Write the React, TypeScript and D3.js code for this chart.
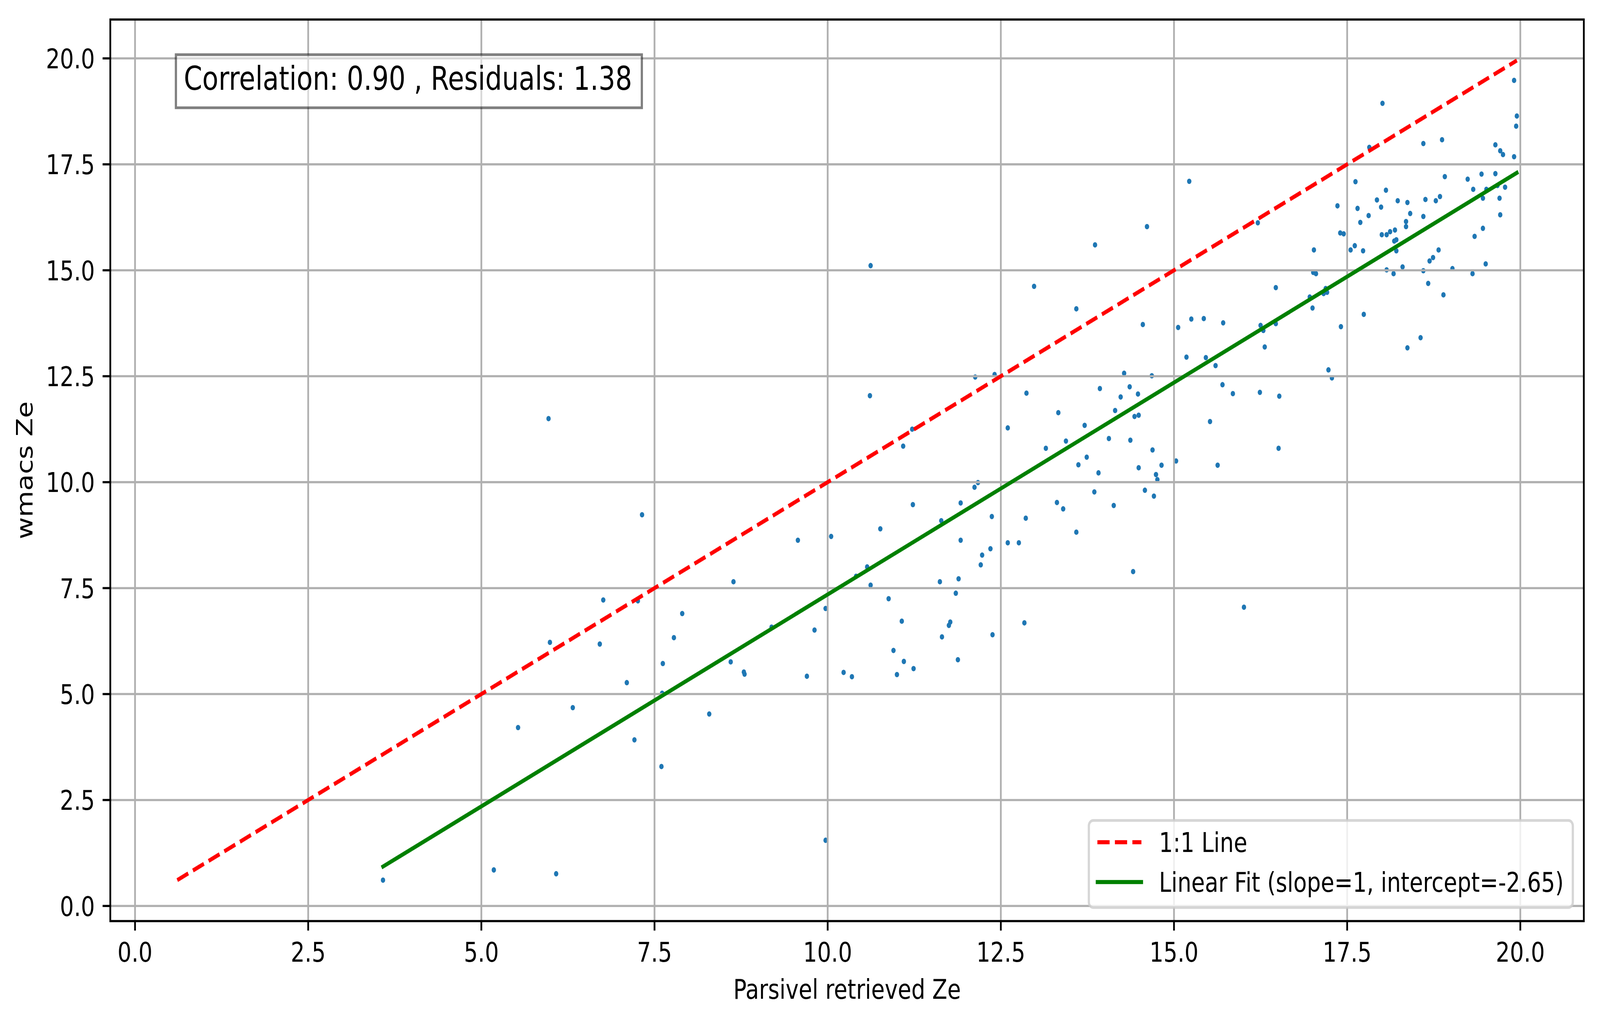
import React, { useEffect } from "react";
import * as d3 from "d3";

// Parsivel retrieved Ze (x) and wmacs Ze (y)
const parsivelZe = [
  3.58, 5.18, 6.08, 5.53, 6.32, 5.99, 6.71, 6.76, 7.1, 7.21, 7.26, 7.32, 7.6, 7.62, 7.61, 7.78, 7.9, 8.29, 8.6, 8.64, 8.79, 8.8, 9.19, 9.57, 5.97,
  10.05, 11.92, 13.59, 12.6, 12.76, 12.35, 12.23, 12.21, 10.57, 10.41, 10.62, 14.41, 11.62, 11.89, 11.85, 10.88, 9.97, 16.01, 9.81, 11.07, 11.77, 11.75, 12.84, 11.65, 12.38, 10.95, 11.1, 11.88, 11.24, 10.23, 9.7, 10.35, 11.0, 9.97,
  10.62, 12.98, 10.61, 12.13, 12.41, 12.87, 13.33, 11.22, 11.09, 12.6, 13.15, 12.17, 12.12, 11.92, 11.23, 11.64, 12.37, 12.86, 13.31, 13.4, 10.76,
  14.61, 13.86, 16.21, 15.22, 17.02, 17.01, 17.05, 16.47, 13.59, 16.96, 17.0, 14.55, 15.06, 15.25, 15.43, 15.71, 16.25, 16.29, 16.47, 16.31,
  15.18, 15.46, 15.6, 14.28, 14.68, 15.7, 15.85, 16.24, 16.52, 13.93, 14.36, 14.48, 14.23, 14.15, 14.43, 14.49, 13.71, 15.52, 13.44, 14.06,
  14.37, 14.69, 13.74, 13.62, 13.91, 14.49, 14.82, 15.03, 15.63, 16.51, 14.74, 14.76, 13.85, 14.58, 14.71, 14.13, 17.23, 17.28, 18.37, 18.56,
  18.01, 19.91, 19.95, 19.94, 17.82, 18.6, 18.87, 19.64, 19.71, 19.75, 19.91, 17.62, 18.91, 19.24, 19.44, 19.64, 17.36, 18.06, 19.32, 19.51,
  19.67, 19.78, 17.93, 17.99, 17.65, 18.23, 18.37, 18.63, 18.78, 18.84, 19.46, 19.7, 17.81, 17.69, 18.41, 18.35, 18.35, 18.6, 19.71, 17.4,
  17.45, 18.0, 18.07, 18.12, 18.19, 18.18, 18.21, 19.46, 19.34, 17.55, 17.61, 17.73, 18.21, 18.82, 18.74, 18.69, 18.07, 18.17, 18.3, 18.6,
  19.02, 19.31, 19.5, 18.67, 18.89, 17.16, 17.21, 17.19, 17.74, 17.41,
];

const wmacsZe = [
  0.61, 0.85, 0.76, 4.21, 4.68, 6.22, 6.18, 7.22, 5.27, 3.92, 7.2, 9.23, 3.29, 5.72, 5.02, 6.33, 6.9, 4.53, 5.76, 7.65, 5.52, 5.47, 6.58, 8.63, 11.5,
  8.72, 8.63, 8.82, 8.57, 8.57, 8.43, 8.28, 8.05, 8.0, 7.78, 7.57, 7.89, 7.65, 7.72, 7.38, 7.25, 7.02, 7.05, 6.51, 6.72, 6.7, 6.62, 6.68, 6.35, 6.4, 6.03, 5.77, 5.81, 5.6, 5.51, 5.42, 5.41, 5.46, 1.55,
  15.11, 14.62, 12.04, 12.48, 12.54, 12.1, 11.64, 11.25, 10.85, 11.28, 10.8, 9.99, 9.88, 9.51, 9.47, 9.09, 9.19, 9.15, 9.52, 9.37, 8.9,
  16.03, 15.6, 16.12, 17.1, 15.48, 14.95, 14.92, 14.59, 14.09, 14.37, 14.11, 13.72, 13.65, 13.85, 13.86, 13.76, 13.7, 13.58, 13.74, 13.19,
  12.95, 12.94, 12.75, 12.57, 12.51, 12.3, 12.09, 12.12, 12.03, 12.21, 12.25, 12.08, 12.01, 11.69, 11.55, 11.58, 11.34, 11.43, 10.97, 11.03,
  10.99, 10.76, 10.59, 10.41, 10.22, 10.34, 10.4, 10.5, 10.4, 10.8, 10.18, 10.06, 9.77, 9.81, 9.67, 9.45, 12.65, 12.46, 13.17, 13.41,
  18.94, 19.48, 18.64, 18.4, 17.9, 17.99, 18.08, 17.96, 17.82, 17.73, 17.68, 17.09, 17.21, 17.15, 17.27, 17.28, 16.52, 16.89, 16.91, 16.91,
  17.0, 16.96, 16.66, 16.49, 16.46, 16.64, 16.6, 16.67, 16.64, 16.74, 16.7, 16.7, 16.29, 16.13, 16.34, 16.15, 16.03, 16.27, 16.31, 15.88,
  15.86, 15.84, 15.84, 15.91, 15.95, 15.69, 15.72, 15.99, 15.8, 15.48, 15.58, 15.46, 15.46, 15.48, 15.3, 15.22, 15.01, 14.92, 15.08, 14.99,
  15.04, 14.92, 15.15, 14.69, 14.42, 14.45, 14.48, 14.57, 13.96, 13.67,
];

const tickValues = [0, 2.5, 5, 7.5, 10, 12.5, 15, 17.5, 20];
const fitSlope = 1;
const fitIntercept = -2.65;
const correlation = 0.9;
const residuals = 1.38;
const legendLabels = ["1:1 Line", `Linear Fit (slope=${fitSlope}, intercept=${fitIntercept})`];

const W = 5048;
const H = 2620;
const M = { left: 348, right: 51, top: 50, bottom: 261 };
const PT = 500 / 72; // matplotlib points -> px at 500 dpi
const FONT = "DejaVu Sans";

export default function App() {
  useEffect(() => {
    document.body.style.margin = "0";
    document.body.style.overflow = "hidden";
  }, []);

  const n = Math.min(parsivelZe.length, wmacsZe.length);
  const pts = d3.range(n).map((i) => ({ x: parsivelZe[i], y: wmacsZe[i] }));

  const xMin = d3.min(parsivelZe) as number;
  const xMax = d3.max(parsivelZe) as number;
  const lineLo = Math.min(xMin, d3.min(wmacsZe) as number);
  const lineHi = Math.max(xMax, d3.max(wmacsZe) as number);

  // matplotlib-style 5% autoscale margins
  const pad = (lo: number, hi: number): [number, number] => [lo - (hi - lo) * 0.05, hi + (hi - lo) * 0.05];
  const x = d3.scaleLinear().domain(pad(lineLo, lineHi)).range([M.left, W - M.right]);
  const y = d3.scaleLinear().domain(pad(lineLo, lineHi)).range([H - M.bottom, M.top]);

  const line = d3
    .line<[number, number]>()
    .x((d) => x(d[0]))
    .y((d) => y(d[1]));

  const oneToOne: [number, number][] = [
    [lineLo, lineLo],
    [lineHi, lineHi],
  ];
  const fit: [number, number][] = [
    [xMin, fitSlope * xMin + fitIntercept],
    [xMax, fitSlope * xMax + fitIntercept],
  ];

  const fmt = d3.format(".1f");
  const tickLen = 3.5 * PT;
  const lw = 0.8 * PT;
  const fs = 10 * PT;
  const [x0, x1] = x.range();
  const [y0, y1] = y.range();

  // legend geometry (lower right)
  const legRight = x1 - 0.5 * fs;
  const legBottom = y0 - 0.5 * fs;
  const legW = 1527;
  const legH = 223;
  const legLeft = legRight - legW;
  const legTop = legBottom - legH;
  const handleX0 = legLeft + 27;
  const handleX1 = handleX0 + 2 * fs;
  const rowY = [legTop + 55.7, legTop + 157.7];
  const dash = `${3.7 * 1.5 * PT} ${1.6 * 1.5 * PT}`;

  return (
    <svg
      viewBox={`0 0 ${W} ${H}`}
      preserveAspectRatio="none"
      style={{
        position: "absolute",
        left: 0,
        top: 0,
        display: "block",
        width: "100vw",
        height: "100vh",
        background: "#fff",
      }}
      fontFamily={FONT}
    >
      <rect x={0} y={0} width={W} height={H} fill="#fff" />

      {/* scatter (drawn beneath the grid, as matplotlib does) */}
      <g fill="#1f77b4">
        {pts.map((p, i) => (
          <circle key={i} cx={x(p.x)} cy={y(p.y)} r={6.9} />
        ))}
      </g>

      {/* grid */}
      <g stroke="#b0b0b0" strokeWidth={lw}>
        {tickValues.map((t) => (
          <line key={`gx${t}`} x1={x(t)} x2={x(t)} y1={y1} y2={y0} />
        ))}
        {tickValues.map((t) => (
          <line key={`gy${t}`} x1={x0} x2={x1} y1={y(t)} y2={y(t)} />
        ))}
      </g>

      {/* 1:1 line and linear fit */}
      <path d={line(oneToOne) || ""} fill="none" stroke="#ff0000" strokeWidth={1.5 * PT} strokeDasharray={dash} />
      <path d={line(fit) || ""} fill="none" stroke="#008000" strokeWidth={1.5 * PT} strokeLinecap="square" />

      {/* spines */}
      <rect x={x0} y={y1} width={x1 - x0} height={y0 - y1} fill="none" stroke="#000" strokeWidth={lw} />

      {/* x ticks */}
      <g>
        {tickValues.map((t) => (
          <g key={`tx${t}`}>
            <line x1={x(t)} x2={x(t)} y1={y0} y2={y0 + tickLen} stroke="#000" strokeWidth={lw} />
            <text x={x(t)} y={y0 + 104} fontSize={fs} textAnchor="middle" fill="#000">
              {fmt(t)}
            </text>
          </g>
        ))}
      </g>

      {/* y ticks */}
      <g>
        {tickValues.map((t) => (
          <g key={`ty${t}`}>
            <line x1={x0 - tickLen} x2={x0} y1={y(t)} y2={y(t)} stroke="#000" strokeWidth={lw} />
            <text x={x0 - 2 * tickLen} y={y(t) + 25.3} fontSize={fs} textAnchor="end" fill="#000">
              {fmt(t)}
            </text>
          </g>
        ))}
      </g>

      {/* axis labels */}
      <text x={(x0 + x1) / 2} y={2558} fontSize={fs} textAnchor="middle" fill="#000">
        Parsivel retrieved Ze
      </text>
      <text transform={`translate(102, ${(y0 + y1) / 2}) rotate(-90)`} fontSize={fs} textAnchor="middle" fill="#000">
        wmacs Ze
      </text>

      {/* stats box */}
      <rect
        x={555}
        y={140}
        width={1470}
        height={136}
        fill="#fff"
        fillOpacity={0.5}
        stroke="#000"
        strokeOpacity={0.5}
        strokeWidth={PT}
      />
      <text x={580} y={230} fontSize={12 * PT} fill="#000">
        {`Correlation: ${correlation.toFixed(2)} , Residuals: ${residuals.toFixed(2)}`}
      </text>

      {/* legend */}
      <rect
        x={legLeft}
        y={legTop}
        width={legW}
        height={legH}
        rx={0.2 * fs}
        fill="#fff"
        fillOpacity={0.8}
        stroke="#cccccc"
        strokeOpacity={0.8}
        strokeWidth={PT}
      />
      <line x1={handleX0} x2={handleX1} y1={rowY[0]} y2={rowY[0]} stroke="#ff0000" strokeWidth={1.5 * PT} strokeDasharray={dash} />
      <line
        x1={handleX0}
        x2={handleX1}
        y1={rowY[1]}
        y2={rowY[1]}
        stroke="#008000"
        strokeWidth={1.5 * PT}
        strokeLinecap="square"
      />
      {legendLabels.map((lab, i) => (
        <text key={lab} x={handleX1 + 0.8 * fs} y={rowY[i] + 25} fontSize={fs} fill="#000">
          {lab}
        </text>
      ))}
    </svg>
  );
}
